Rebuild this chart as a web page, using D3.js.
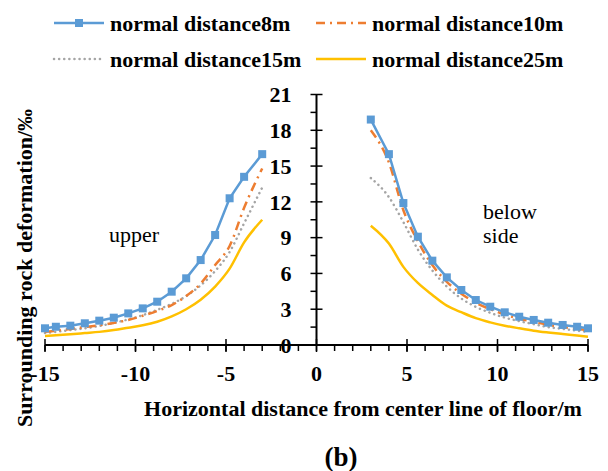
<!DOCTYPE html>
<html>
<head>
<meta charset="utf-8">
<script src="https://d3js.org/d3.v7.min.js"></script>
<style>
  body { margin: 0; background: #fff; }
  svg { display: block; font-family: "Liberation Serif", "Times New Roman", serif; }
</style>
</head>
<body>
<svg width="608" height="471"></svg>
<script>
// x positions of the points (left and right of the center line)
const xLeft  = [-15, -14.4, -13.6, -12.8, -12, -11.2, -10.4, -9.6, -8.8, -8, -7.2, -6.4, -5.6, -4.8, -4, -3];
const xRight = [3, 4, 4.8, 5.6, 6.4, 7.2, 8, 8.8, 9.6, 10.4, 11.2, 12, 12.8, 13.6, 14.4, 15];

// deformation values (‰)
const d8Left   = [1.40, 1.53, 1.62, 1.82, 2.04, 2.29, 2.65, 3.07, 3.63, 4.47, 5.59, 7.12, 9.22, 12.3, 14.1, 16.0];
const d8Right  = [18.9, 16.0, 11.9, 9.08, 7.07, 5.67, 4.61, 3.77, 3.21, 2.74, 2.37, 2.10, 1.87, 1.68, 1.53, 1.40];
const d10Left  = [1.10, 1.20, 1.35, 1.50, 1.65, 1.85, 2.10, 2.45, 2.85, 3.35, 4.10, 5.15, 6.70, 8.30, 11.5, 14.8];
const d10Right = [18.0, 15.3, 11.3, 8.70, 6.70, 5.30, 4.30, 3.55, 3.00, 2.55, 2.20, 1.95, 1.70, 1.50, 1.35, 1.25];
const d15Left  = [1.00, 1.10, 1.25, 1.40, 1.60, 1.85, 2.15, 2.50, 2.95, 3.45, 4.10, 5.00, 6.20, 7.80, 10.2, 13.2];
const d15Right = [14.0, 12.4, 10.3, 8.00, 6.25, 4.90, 3.90, 3.20, 2.70, 2.30, 2.00, 1.75, 1.50, 1.35, 1.20, 1.10];
const d25Left  = [0.75, 0.82, 0.90, 1.00, 1.10, 1.25, 1.45, 1.65, 1.95, 2.40, 3.00, 3.80, 4.90, 6.40, 8.60, 10.5];
const d25Right = [10.0, 8.50, 6.55, 5.20, 4.20, 3.30, 2.75, 2.25, 1.90, 1.62, 1.40, 1.20, 1.05, 0.92, 0.80, 0.70];

const xTicks = [-15, -10, -5, 0, 5, 10, 15];
const yTicks = [0, 3, 6, 9, 12, 15, 18, 21];

const series = [
  {name: "normal distance8m",  color: "#5b9bd5", dash: null,        left: d8Left,  right: d8Right,  marker: true},
  {name: "normal distance10m", color: "#ed7d31", dash: "9,5,2,5",   left: d10Left, right: d10Right, marker: false},
  {name: "normal distance15m", color: "#a5a5a5", dash: "0.1,5",     left: d15Left, right: d15Right, marker: false},
  {name: "normal distance25m", color: "#ffc000", dash: null,        left: d25Left, right: d25Right, marker: false}
];

const svg = d3.select("svg");
const x = d3.scaleLinear().domain([-15, 15]).range([45, 588]);
const y = d3.scaleLinear().domain([0, 21]).range([345, 94.5]);

// y axis (at x = 0)
const yAxis = svg.append("g").attr("transform", `translate(${x(0)},0)`);
yAxis.append("line").attr("y1", y(0)).attr("y2", y(21)).attr("stroke", "#000").attr("stroke-width", 2);
yAxis.selectAll(".minor").data(d3.range(1.5, 21, 3)).enter().append("line")
  .attr("x1", -6).attr("x2", 0).attr("y1", d => y(d)).attr("y2", d => y(d))
  .attr("stroke", "#000").attr("stroke-width", 1.5);
yAxis.selectAll(".major").data(yTicks).enter().append("line")
  .attr("x1", -6).attr("x2", 6).attr("y1", d => y(d)).attr("y2", d => y(d))
  .attr("stroke", "#000").attr("stroke-width", 1.5);
yAxis.selectAll("text").data(yTicks).enter().append("text")
  .attr("x", -25).attr("y", d => y(d)).attr("dy", "0.35em")
  .attr("text-anchor", "end").attr("font-size", 22).attr("font-weight", "bold")
  .text(d => d);

// x axis (at y = 0)
const xAxis = svg.append("g").attr("transform", `translate(0,${y(0)})`);
xAxis.append("line").attr("x1", x(-15)).attr("x2", x(15)).attr("stroke", "#000").attr("stroke-width", 2);
xAxis.selectAll(".minor").data(d3.range(-15, 16, 1)).enter().append("line")
  .attr("x1", d => x(d)).attr("x2", d => x(d)).attr("y1", 0).attr("y2", 6)
  .attr("stroke", "#000").attr("stroke-width", 1.5);
xAxis.selectAll(".major").data(xTicks).enter().append("line")
  .attr("x1", d => x(d)).attr("x2", d => x(d)).attr("y1", -6).attr("y2", 7)
  .attr("stroke", "#000").attr("stroke-width", 1.5);
xAxis.selectAll("text").data(xTicks).enter().append("text")
  .attr("x", d => x(d)).attr("y", 36)
  .attr("text-anchor", "middle").attr("font-size", 22).attr("font-weight", "bold")
  .text(d => d);

// lines
const line = d3.line().x(d => x(d[0])).y(d => y(d[1])).curve(d3.curveMonotoneX);
const lineStraight = d3.line().x(d => x(d[0])).y(d => y(d[1]));
const plot = svg.append("g");
series.slice().reverse().forEach(s => {
  [[xLeft, s.left], [xRight, s.right]].forEach(([xs, vs]) => {
    const pts = xs.map((v, i) => [v, vs[i]]);
    plot.append("path")
      .attr("d", s.marker ? lineStraight(pts) : line(pts))
      .attr("fill", "none").attr("stroke", s.color)
      .attr("stroke-width", 2.5)
      .attr("stroke-linecap", s.dash === "0.1,5" ? "round" : "butt")
      .attr("stroke-dasharray", s.dash);
    if (s.marker) {
      plot.selectAll(null).data(pts).enter().append("rect")
        .attr("x", d => x(d[0]) - 4).attr("y", d => y(d[1]) - 4)
        .attr("width", 8).attr("height", 8).attr("fill", s.color);
    }
  });
});

// annotations
svg.append("text").attr("x", 109).attr("y", 242).attr("font-size", 22).text("upper");
svg.append("text").attr("x", 483).attr("y", 219).attr("font-size", 22).text("below");
svg.append("text").attr("x", 483).attr("y", 243).attr("font-size", 22).text("side");

// axis titles
svg.append("text").attr("x", 363).attr("y", 416).attr("text-anchor", "middle")
  .attr("font-size", 22).attr("font-weight", "bold")
  .text("Horizontal distance from center line of floor/m");
svg.append("text").attr("transform", "translate(32,268) rotate(-90)").attr("text-anchor", "middle")
  .attr("font-size", 22).attr("font-weight", "bold")
  .text("Surrounding rock deformation/‰");
svg.append("text").attr("x", 341).attr("y", 466).attr("text-anchor", "middle")
  .attr("font-size", 27).attr("font-weight", "bold").text("(b)");

// legend
const legendPos = [[54, 23], [316, 23], [54, 59], [316, 59]];
series.forEach((s, i) => {
  const [lx, ly] = legendPos[i];
  const g = svg.append("g").attr("transform", `translate(${lx},${ly})`);
  g.append("line").attr("x1", 0).attr("x2", 50).attr("stroke", s.color).attr("stroke-width", 2.5)
    .attr("stroke-linecap", s.dash === "0.1,5" ? "round" : "butt")
    .attr("stroke-dasharray", s.dash);
  if (s.marker) g.append("rect").attr("x", 21).attr("y", -4).attr("width", 8).attr("height", 8).attr("fill", s.color);
  g.append("text").attr("x", 56).attr("dy", "0.35em").attr("font-size", 22).attr("font-weight", "bold").text(s.name);
});
</script>
</body>
</html>
